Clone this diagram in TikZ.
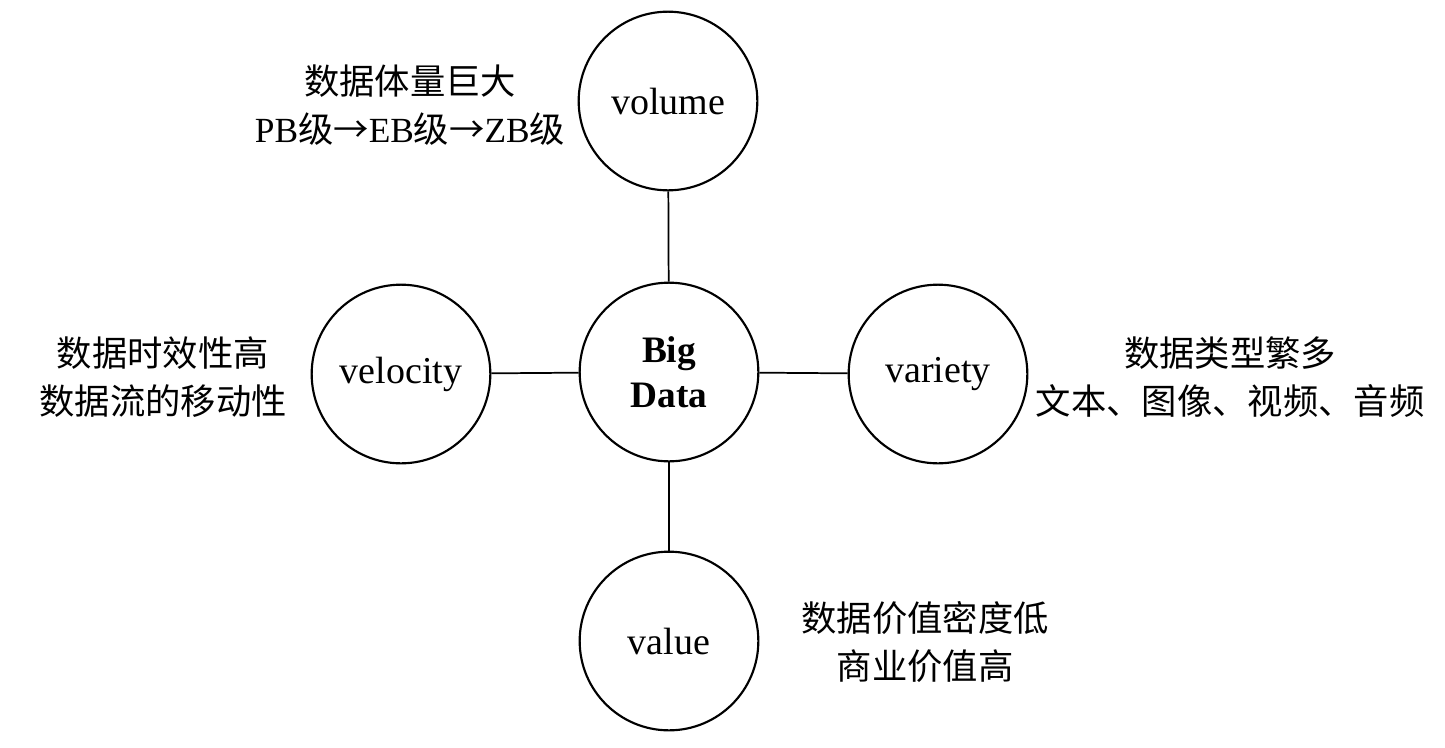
\documentclass[tikz,border=0pt]{standalone}
\usepackage{fontspec}
\setmainfont{Liberation Serif}
\newfontfamily\cjk{Noto Sans CJK SC}
\newfontfamily\lat{Liberation Serif}
\begin{document}
\begin{tikzpicture}[x=0.75pt,y=-0.75pt,
  vcircle/.style={circle,draw,line width=1.6pt,minimum size=134pt,inner sep=0pt,
    font=\fontsize{28.5}{34}\selectfont},
  note/.style={align=center,inner sep=0pt,font=\cjk\fontsize{26.5}{35.5}\selectfont},
  link/.style={line width=1.3pt}]
\useasboundingbox (0,0) rectangle (1445,747);
\node[vcircle,font=\bfseries\fontsize{28}{34}\selectfont,align=center] (big) at (669,372) {Big\\Data};
\node[vcircle] (vol) at (668,101) {\raisebox{-2.2pt}{volume}};
\node[vcircle] (vel) at (401,374) {\raisebox{-2.2pt}{velocity}};
\node[vcircle] (var) at (938,374) {\raisebox{-2.2pt}{variety}};
\node[vcircle] (val) at (669,641) {\raisebox{-1pt}{value}};
\draw[link] (vol) -- (big);
\draw[link] (vel) -- (big);
\draw[link] (var) -- (big);
\draw[link] (val) -- (big);
\node[note] (tvol) at (410,105) {数据体量巨大\\{\lat PB}级→{\lat EB}级→{\lat ZB}级};
\node[note] (tvel) at (163,377) {数据时效性高\\数据流的移动性};
\node[note] (tvar) at (1230,377) {数据类型繁多\\文本、图像、视频、音频};
\node[note] (tval) at (925,642) {数据价值密度低\\商业价值高};
\end{tikzpicture}
\end{document}
